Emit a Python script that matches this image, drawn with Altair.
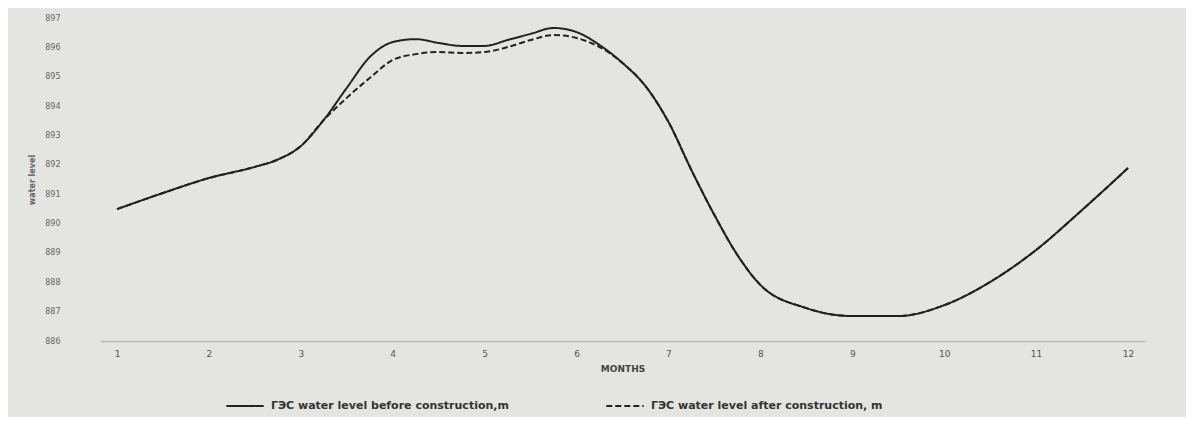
import altair as alt
import pandas as pd

months = [1, 1.5, 2, 2.5, 2.75, 3, 3.25, 3.5, 3.75, 4, 4.25, 4.5, 4.75, 5, 5.25, 5.5, 5.75,
          6, 6.25, 6.5, 6.75, 7, 7.25, 7.5, 7.75, 8, 8.5, 9, 9.5, 10, 10.5, 11, 11.5, 12]

before = [890.49, 891.04, 891.55, 891.93, 892.18, 892.64, 893.53, 894.62, 895.67, 896.18, 896.28,
          896.15, 896.05, 896.05, 896.25, 896.46, 896.66, 896.52, 896.08, 895.47, 894.68,
          893.46, 891.82, 890.29, 888.93, 887.91, 887.12, 886.85, 886.85, 887.22, 888.01,
          889.10, 890.46, 891.89]

after = [890.49, 891.04, 891.55, 891.93, 892.18, 892.64, 893.53, 894.28, 894.96, 895.57, 895.77,
         895.84, 895.81, 895.84, 896.01, 896.25, 896.42, 896.32, 896.01, 895.47, 894.68,
         893.46, 891.82, 890.29, 888.93, 887.91, 887.12, 886.85, 886.85, 887.22, 888.01,
         889.10, 890.46, 891.89]

series_names = ["ГЭС   water level before construction,m",
                "ГЭС   water level after construction, m"]

month_ticks = list(range(1, 13))
level_ticks = list(range(886, 898))

rows = []
for m, v in zip(months, before):
    rows.append({"month": m, "level": v, "series": series_names[0]})
for m, v in zip(months, after):
    rows.append({"month": m, "level": v, "series": series_names[1]})
df = pd.DataFrame(rows)

chart = alt.Chart(df).mark_line(interpolate="monotone", strokeWidth=2, color="#222222").encode(
    x=alt.X("month:Q", scale=alt.Scale(domain=[0.815, 12.185], nice=False, zero=False),
            axis=alt.Axis(values=month_ticks, title="MONTHS", grid=False, ticks=False,
                          domain=True, domainColor="#b8b8b4", domainWidth=1.5,
                          labelPadding=8, labelFontSize=9, labelColor="#555555",
                          titleFontSize=9, titleColor="#444444", titleFontWeight="bold",
                          titlePadding=6, labelFont="DejaVu Sans", titleFont="DejaVu Sans")),
    y=alt.Y("level:Q", scale=alt.Scale(domain=[886, 897], nice=False, zero=False),
            axis=alt.Axis(values=level_ticks, format="d", title="water level", grid=False,
                          ticks=False, domain=False, labelPadding=40, labelFontSize=8,
                          labelColor="#666666", titleFontSize=8, titleColor="#666666",
                          titlePadding=8, labelFont="DejaVu Sans", titleFont="DejaVu Sans")),
    strokeDash=alt.StrokeDash("series:N", scale=alt.Scale(domain=series_names,
                                                          range=[[1, 0], [6, 3]]),
                              legend=alt.Legend(title=None, orient="none", direction="horizontal",
                                                legendX=125, legendY=368, symbolType="stroke",
                                                symbolSize=1400, symbolStrokeWidth=2,
                                                symbolStrokeColor="#222222",
                                                labelFontSize=11, labelColor="#333333",
                                                labelFont="DejaVu Sans", labelFontWeight="bold",
                                                columnPadding=85, labelOffset=6,
                                                labelLimit=400)),
).properties(
    width=1045, height=323,
    autosize=alt.AutoSizeParams(type="none"),
    padding={"left": 92, "top": 10, "right": 41, "bottom": 76},
    background="#e4e4e1",
).configure_view(stroke=None)

chart.save("out.html", embed_options={"renderer": "svg", "actions": False})
